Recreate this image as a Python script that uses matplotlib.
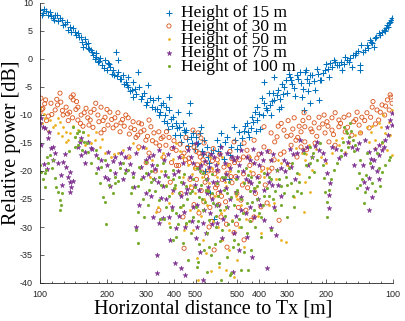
# -*- coding: utf-8 -*-

#%% import
import numpy as np
import matplotlib
matplotlib.use('Agg')
import matplotlib.pyplot as plt
from matplotlib.ticker import FixedLocator


#%% data
# signed horizontal distance [m]: negative = outbound leg (left half), positive = return leg (right half)
d15 = [
    -100, -103, -104, -109, -111, -114, -117, -120, -123, -127,
    -132, -134, -138, -141, -145, -148, -153, -156, -159, -164,
    -164, -169, -173, -178, -178, -182, -186, -190, -196, -202,
    -206, -210, -213, -219, -224, -224, -229, -236, -239, -243,
    -249, -249, -254, -262, -262, -267, -275, -278, -284, -293,
    -299, -305, -312, -322, -329, -339, -342, -350, -357, -361,
    -368, -376, -380, -380, -388, -396, -404, -409, -417, -421,
    -430, -439, -448, -453, -463, -467, -472, -477, -487, -497,
    -503, -513, -524, -529, -540, -546, -563, -575, -587, -600,
    -552, -581, -606,
    615, 612, 593, 575, 557, 546, 535, 518, 503, 492,
    477, 463, 453, 444, 435, 430, 417, 409, 409, 396,
    388, 380, 380, 368, 361, 353, 350, 342, 342, 332,
    325, 318, 315, 309, 299, 293, 290, 287, 278, 270,
    262, 259, 256, 251, 249, 244, 239, 236, 236, 231,
    224, 219, 215, 213, 210, 202, 194, 192, 188, 182,
    178, 175, 169, 164, 161, 158, 153, 151, 148, 144,
    141, 141, 139, 134, 131, 127, 124, 122, 119, 116,
    112, 110, 108, 106, 104, 103, 102, 101]
p15 = [
    8.8, 8.2, 8.9, 7.9, 8.4, 7.3, 7.8, 6.7, 7.4, 6.1,
    6.6, 5.2, 4.9, 5.6, 4.3, 4.6, 4.0, 2.2, 3.6, 2.0,
    2.8, 1.6, 0.8, 1.1, 0.4, -0.6, 0.2, -1.0, -0.2, -0.7,
    -1.4, -2.6, -2.0, 1.3, -2.3, -0.2, -3.5, -2.9, -4.4, -4.1,
    -5.0, -3.2, -5.8, -4.1, -6.8, -5.4, -2.3, -5.0, -7.2, -6.1,
    -8.3, -4.6, -7.0, -7.3, -9.0, -7.0, -10.0, -8.2, -7.9, -11.0,
    -8.6, -12.5, -9.1, -6.8, -10.8, -10.4, -13.6, -11.4, -9.5, -12.1,
    -14.8, -11.4, -13.0, -12.7, -15.5, -9.6, -7.9, -14.0, -13.2, -16.0,
    -13.9, -15.0, -13.2, -12.1, -17.0, -14.5, -15.7, -18.5, -16.8, -16.3,
    -20.0, -24.0, -28.5,
    -14.5, -16.5, -13.2, -17.8, -13.9, -21.5, -15.8, -12.1, -16.0, -13.0,
    -14.1, -12.0, -11.4, -14.0, -12.3, -10.4, -9.5, -10.9, -8.6, -12.5,
    -7.0, -7.9, -4.1, -9.1, -6.0, -10.0, -7.5, -7.3, -3.2, -6.4,
    -9.0, -8.6, -4.5, -5.0, -6.1, -2.6, -3.2, -3.8, -5.2, -2.9,
    -2.3, -4.3, -6.8, -9.1, -2.3, -3.5, -4.3, -7.9, -2.9, -2.9,
    -5.5, -1.8, -7.3, -3.8, -3.8, -2.0, -3.2, -0.7, -1.4, -0.5,
    -1.1, -1.1, -2.0, 0.4, -0.2, -0.5, -1.4, 0.7, 0.7, 1.5,
    -2.0, -1.1, 2.5, 1.6, 2.5, 3.4, 2.8, 2.2, 4.0, 4.6,
    4.9, 5.2, 5.5, 6.1, 6.5, 6.6, 7.0, 7.3]
d15b = [
    -102, -106, -112, -116, -119, -125, -129, -136, -143, -150,
    -155, -161, -166, -171, -176, -184, -193, -199, -204, -215,
    -221, -232, -246, -258, -271, -288, -302, -318, -335, -346,
    -365, -372, -392, -413, -426, -444, -458, -482, -508, -535,
    -569,
    600, 569, 540, 513, 487, 467, 448, 426, 413, 400,
    384, 372, 357, 346, 329, 322, 312, 302, 284, 275,
    267, 254, 246, 241, 226, 217, 207, 200, 196, 185,
    172, 166, 156, 146, 137, 129, 126, 120, 114, 109,
    105]
p15b = [
    7.9, 8.6, 7.6, 7.0, 7.9, 6.9, 6.3, 5.8, 4.8, 3.9,
    3.1, 2.6, 1.8, 1.2, 0.0, -0.3, -1.6, -1.9, -0.9, -2.8,
    -3.1, -3.6, -4.6, -5.6, -6.2, -6.6, -7.7, -8.6, -8.9, -9.4,
    -10.0, -11.5, -11.9, -12.3, -13.5, -12.6, -14.2, -15.0, -15.2, -16.5,
    -17.5,
    -15.5, -14.8, -17.2, -14.5, -15.3, -12.9, -13.0, -11.2, -12.8, -9.8,
    -10.0, -8.8, -8.2, -6.0, -5.5, -7.2, -6.3, -3.8, -4.4, -6.6,
    -3.6, -5.4, -2.0, -5.8, -4.0, -2.6, -2.5, -0.9, -1.8, -0.2,
    -0.6, -0.9, 0.2, 1.0, 1.2, 2.0, 3.0, 3.8, 4.3, 5.0,
    5.8]

d30 = [
    -100, -101, -103, -105, -106, -109, -112, -117, -120, -123,
    -124, -127, -131, -134, -136, -138, -141, -141, -145, -148,
    -148, -153, -156, -161, -164, -168, -169, -173, -178, -182,
    -188, -188, -192, -196, -202, -206, -213, -217, -224, -229,
    -231, -239, -243, -249, -256, -262, -270, -275, -278, -284,
    -293, -299, -309, -315, -325, -332, -342, -350, -357, -368,
    -380, -392, -409, -426, -444, -453, -467, -487, -492, -503,
    -513, -518, -529, -540, -546, -557, -569, -587, -600, -251,
    -278, -309, -342, -439, -444, -492, -518, -575, -606, -552,
    -472, -593, -560, -530, -500, -470, -420, -390, -580, -610,
    618, 616, 606, 593, 575, 557, 557, 540, 529, 518,
    518, 503, 482, 467, 467, 458, 453, 435, 421, 421,
    409, 392, 380, 380, 368, 353, 342, 332, 325, 318,
    309, 309, 296, 287, 287, 278, 273, 270, 264, 259,
    259, 251, 249, 249, 239, 231, 226, 224, 215, 215,
    204, 202, 198, 194, 188, 188, 182, 182, 175, 175,
    166, 164, 158, 153, 150, 145, 142, 138, 131, 128,
    124, 123, 118, 116, 112, 109, 106, 104, 103, 102,
    101, 600, 545, 510, 490, 470, 440, 400, 360]
p30 = [
    -9.6, -7.0, -8.8, -8.0, -7.3, -10.2, -7.9, -9.1, -8.2, -6.1,
    -7.7, -10.0, -8.6, -11.0, -9.5, -6.8, -7.3, -6.4, -9.0, -8.6,
    -10.9, -10.0, -12.0, -8.8, -10.5, -10.9, -9.5, -12.2, -7.9, -10.0,
    -8.6, -13.2, -11.0, -10.4, -11.8, -9.5, -12.3, -10.5, -9.6, -13.0,
    -11.4, -12.0, -10.0, -10.5, -12.3, -11.2, -14.0, -13.6, -11.4, -13.0,
    -12.7, -14.5, -10.9, -12.1, -13.2, -15.0, -13.0, -14.2, -13.9, -15.4,
    -14.0, -16.0, -16.3, -15.2, -16.8, -14.0, -17.7, -12.7, -15.7, -16.5,
    -13.2, -16.8, -14.1, -18.0, -15.0, -18.6, -17.0, -19.8, -16.0, -17.5,
    -15.7, -16.8, -27.0, -28.2, -33.8, -26.0, -27.5, -30.0, -34.1, -22.0,
    -21.5, -24.5, -21.0, -23.5, -19.5, -18.5, -19.0, -18.5, -26.5, -20.5,
    -22.5, -18.0, -26.0, -28.2, -19.3, -20.4, -33.6, -16.5, -22.1, -31.0,
    -14.8, -24.0, -25.2, -32.3, -15.0, -27.0, -16.3, -28.8, -28.2, -14.5,
    -17.7, -26.4, -12.1, -15.7, -25.7, -13.2, -18.0, -13.9, -28.8, -11.5,
    -12.7, -16.6, -11.0, -13.6, -15.4, -10.5, -14.5, -17.5, -12.0, -13.0,
    -15.7, -9.6, -12.1, -14.8, -10.5, -13.0, -11.4, -15.0, -10.4, -12.3,
    -10.0, -13.2, -11.2, -14.8, -10.5, -12.7, -9.6, -15.4, -10.9, -12.1,
    -10.4, -13.0, -10.0, -13.6, -11.2, -9.5, -11.8, -10.4, -9.6, -12.3,
    -8.6, -7.6, -9.1, -10.9, -8.2, -10.0, -7.3, -9.1, -6.4, -6.8,
    -7.9, -17.0, -19.0, -21.0, -18.0, -20.5, -19.0, -21.0, -20.0]
d30b = [
    -102, -107, -113, -119, -126, -133, -140, -146, -152, -158,
    -166, -175, -184, -194, -200, -210, -220, -235, -252, -266,
    -286, -304, -320, -345, -370, -400, -435, -460, -510, -535,
    -565, -595,
    610, 585, 565, 530, 505, 475, 445, 415, 385, 360,
    340, 328, 300, 282, 268, 254, 245, 234, 220, 207,
    196, 185, 172, 160, 147, 140, 134, 126, 120, 114,
    108]
p30b = [
    -9.0, -11.0, -9.9, -7.2, -9.2, -9.8, -10.5, -7.6, -11.5, -9.6,
    -11.8, -9.0, -11.2, -12.6, -9.0, -10.8, -11.8, -10.8, -13.4, -12.6,
    -11.6, -13.8, -14.6, -15.5, -13.0, -14.6, -17.4, -15.8, -18.9, -20.2,
    -23.6, -18.2,
    -24.0, -21.5, -25.5, -17.8, -29.5, -22.5, -17.5, -24.0, -19.5, -16.5,
    -14.8, -12.0, -13.8, -12.5, -14.0, -11.0, -16.2, -12.5, -13.8, -11.6,
    -12.0, -13.5, -11.5, -12.2, -10.8, -13.2, -11.0, -10.4, -11.6, -9.5,
    -8.4]
# third batch: the crowded cloud around the turning point
d30c = [-300, -330, -360, -385, -410, -430, -450, -480, -505, -525, -545, -570, -590, -615,
        612, 590, 560, 535, 515, 495, 470, 450, 425, 400, 375, 350, 320, 290]
p30c = [-18.5, -20.0, -17.5, -22.0, -19.0, -24.0, -18.0, -23.0, -21.5, -17.5, -25.5, -20.0, -29.0, -23.0,
        -20.0, -24.5, -29.5, -21.0, -18.5, -26.5, -17.5, -23.0, -20.5, -17.0, -22.5, -19.5, -17.0, -19.0]

d50 = [
    -100, -102, -105, -109, -111, -117, -120, -120, -123, -127,
    -131, -131, -134, -136, -144, -147, -148, -153, -159, -164,
    -177, -178, -186, -196, -208, -224, -236, -262, -299, -332,
    -339, -357, -380, -380, -409, -439, -439, -487, -513, -540,
    -557, -575, -587, -463, -524, -497, -404, -281, -312, -560,
    -600, -530, -470, -420, 619, 606, 587, 587, 563, 563,
    546, 529, 518, 503, 492, 467, 439, 392, 380, 357,
    342, 318, 318, 302, 278, 273, 256, 251, 249, 249,
    239, 236, 231, 210, 188, 175, 169, 164, 148, 131,
    128, 126, 120, 121, 112, 113, 109, 106, 104, 101,
    101, 111, 600, 540, 480, 450]
p50 = [
    -8.8, -11.5, -10.5, -12.8, -10.9, -11.8, -10.5, -13.2, -11.2, -12.1,
    -13.0, -14.8, -14.5, -13.2, -13.9, -13.2, -12.7, -14.5, -15.4, -13.6,
    -14.5, -13.0, -15.7, -16.8, -17.5, -16.8, -16.3, -15.0, -15.9, -27.3,
    -26.4, -16.8, -25.7, -29.3, -15.0, -17.5, -21.0, -30.5, -39.4, -32.3,
    -34.6, -22.1, -37.9, -19.0, -18.5, -24.0, -23.0, -19.5, -21.0, -26.0,
    -29.0, -28.0, -27.0, -20.0, -21.0, -37.1, -17.5, -32.3, -22.7, -37.7,
    -34.1, -28.8, -38.9, -35.9, -30.0, -33.6, -20.0, -31.1, -21.0, -18.0,
    -25.7, -18.6, -32.3, -32.7, -24.6, -15.9, -16.8, -27.3, -18.0, -22.0,
    -15.4, -23.8, -19.8, -17.5, -16.8, -15.4, -14.1, -16.6, -13.6, -12.1,
    -14.8, -13.0, -15.9, -14.5, -15.0, -12.1, -13.2, -16.3, -11.2, -17.1,
    -9.1, -10.0, -24.0, -20.0, -26.0, -22.0]
d50b = [
    -104, -114, -126, -140, -156, -170, -190, -215, -250, -275,
    -320, -350, -370, -395, -430, -455, -480, -505, -545, -590,
    610, 575, 550, 510, 470, 425, 405, 370, 335, 300,
    265, 245, 222, 200, 180, 158, 140, 124, 115, 103]
p50b = [
    -9.8, -12.2, -13.8, -12.0, -13.0, -15.0, -14.2, -17.0, -17.5, -16.0,
    -18.0, -20.0, -22.5, -17.8, -26.5, -29.5, -20.5, -35.5, -25.0, -19.5,
    -30.0, -27.0, -19.0, -24.5, -22.0, -18.5, -28.0, -19.5, -21.5, -19.0,
    -20.5, -17.0, -16.0, -18.5, -14.5, -15.0, -13.0, -12.0, -11.5, -13.5]
d50c = [-350, -390, -425, -445, -470, -490, -515, -535, -565, -580, -610,
        612, 595, 570, 545, 520, 500, 460, 440, 415, 390, 360, 330]
p50c = [-17.5, -24.0, -16.5, -30.5, -22.5, -19.5, -27.0, -21.0, -31.0, -17.5, -24.5,
        -18.5, -27.5, -22.0, -30.5, -17.8, -25.0, -28.5, -17.5, -23.0, -20.0, -26.0, -18.0]

d75 = [
    -100, -101, -101, -103, -105, -109, -112, -114, -114, -117,
    -120, -124, -127, -131, -134, -136, -136, -136, -138, -148,
    -151, -153, -153, -159, -164, -169, -178, -188, -196, -202,
    -202, -206, -217, -217, -229, -231, -236, -243, -251, -262,
    -270, -270, -278, -290, -290, -299, -309, -322, -322, -325,
    -335, -335, -342, -342, -357, -357, -361, -380, -384, -396,
    -396, -404, -409, -421, -430, -439, -444, -448, -463, -487,
    -487, -503, -518, -540, -540, -540, -557, -575, -606, -593,
    -560, -520, -470, -430, -600, -580, -500, -450, 619, 616,
    593, 575, 557, 557, 524, 518, 503, 492, 482, 482,
    453, 453, 435, 430, 421, 421, 392, 380, 380, 368,
    353, 353, 342, 335, 332, 309, 287, 270, 262, 244,
    231, 219, 215, 202, 198, 194, 194, 192, 188, 175,
    153, 142, 134, 131, 128, 128, 128, 124, 124, 122,
    116, 116, 112, 109, 106, 105, 103, 101, 101, 600,
    570, 540, 510, 470, 440, 410, 400, 370, 330]
p75 = [
    -11.4, -10.6, -15.4, -12.1, -12.3, -14.1, -15.9, -18.0, -15.7, -16.8,
    -18.6, -20.7, -18.4, -19.3, -21.0, -20.2, -22.0, -23.8, -22.9, -15.7,
    -14.8, -14.1, -17.1, -16.6, -14.8, -15.9, -17.1, -18.0, -21.0, -16.6,
    -21.4, -22.7, -17.5, -20.4, -18.6, -16.8, -21.4, -19.8, -15.9, -20.4,
    -16.8, -30.0, -26.0, -15.7, -21.0, -18.0, -17.5, -17.1, -28.2, -21.4,
    -35.0, -38.2, -16.3, -29.3, -22.7, -28.4, -18.0, -28.2, -32.3, -15.7,
    -23.4, -36.4, -30.2, -17.5, -37.3, -22.1, -27.3, -38.6, -16.3, -18.6,
    -26.4, -15.0, -23.4, -16.8, -29.3, -39.5, -31.1, -19.3, -17.5, -25.0,
    -21.5, -19.5, -21.0, -24.5, -22.0, -27.5, -32.0, -30.0, -29.3, -19.8,
    -15.7, -21.4, -16.8, -26.4, -38.0, -18.0, -21.0, -34.1, -16.3, -24.6,
    -17.5, -31.8, -22.1, -35.4, -18.6, -28.2, -16.8, -23.4, -28.8, -37.3,
    -18.0, -30.2, -26.4, -31.4, -19.8, -18.0, -19.3, -16.8, -14.5, -15.7,
    -17.5, -14.8, -16.3, -18.0, -20.4, -24.3, -26.6, -22.1, -15.7, -17.7,
    -15.7, -15.0, -14.5, -23.0, -16.6, -21.2, -27.0, -19.3, -24.6, -18.0,
    -15.4, -17.1, -16.3, -14.5, -12.1, -13.5, -10.9, -9.6, -11.8, -23.5,
    -18.5, -25.0, -28.0, -20.0, -26.5, -21.0, -19.0, -20.5, -22.5]
d75b = [
    -104, -107, -110, -126, -129, -140, -160, -172, -183, -200,
    -212, -240, -255, -265, -285, -305, -315, -330, -350, -365,
    -375, -390, -415, -460, -480, -510, -525, -550, -565, -590,
    -615,
    610, 585, 560, 530, 505, 490, 460, 445, 425, 405,
    385, 362, 345, 320, 300, 280, 255, 240, 225, 206,
    180, 165, 160, 145, 137, 120, 118]
p75b = [
    -18.8, -19.6, -13.0, -22.5, -17.0, -21.8, -18.5, -16.0, -19.5, -19.0,
    -18.2, -17.5, -18.8, -22.8, -19.2, -20.5, -24.5, -19.6, -24.8, -20.8,
    -17.0, -26.5, -20.0, -23.2, -29.0, -26.0, -34.5, -18.3, -24.0, -29.5,
    -19.0,
    -26.0, -32.0, -20.5, -17.5, -23.8, -19.0, -27.5, -21.8, -16.0, -25.0,
    -18.0, -22.0, -17.0, -19.5, -18.5, -17.0, -16.2, -19.0, -15.5, -16.8,
    -16.0, -17.0, -14.8, -16.0, -19.0, -16.0, -20.0]
d75c = [-300, -320, -340, -370, -400, -420, -440, -455, -475, -495, -510, -530, -545, -570, -585, -615,
        615, 600, 580, 560, 540, 520, 500, 480, 460, 440,
        420, 395, 370, 350, 320, 305, 290, 275, 150, 135,
        125, 115, 110]
p75c = [-24.0, -19.0, -22.0, -25.0, -20.5, -28.0, -18.5, -24.0, -17.5, -22.5, -30.0, -19.0, -27.0, -22.8, -17.0, -26.0,
        -22.0, -17.0, -28.5, -23.0, -19.5, -31.0, -17.5, -27.0, -21.5, -18.0,
        -23.5, -26.0, -16.5, -22.5, -24.5, -20.0, -16.0, -21.5, -19.0, -22.0,
        -17.8, -21.5, -15.8]

d100 = [
    -100, -101, -105, -106, -109, -105, -111, -114, -117, -118,
    -120, -123, -124, -123, -141, -144, -147, -148, -151, -154,
    -156, -163, -164, -178, -178, -186, -188, -192, -196, -196,
    -198, -206, -217, -217, -229, -241, -249, -256, -262, -270,
    -275, -275, -275, -278, -293, -299, -299, -309, -322, -342,
    -342, -357, -368, -368, -396, -396, -396, -409, -409, -421,
    -439, -453, -453, -463, -487, -487, -508, -513, -518, -540,
    -540, -546, -557, -563, -575, -600, -590, -560, -530, -500,
    -470, -440, -420, -380, -330, -610, 616, 606, 593, 575,
    557, 540, 535, 535, 518, 503, 482, 482, 467, 453,
    453, 448, 435, 435, 421, 409, 392, 392, 380, 353,
    353, 332, 318, 302, 299, 287, 278, 270, 259, 251,
    239, 236, 236, 229, 226, 213, 204, 202, 198, 198,
    194, 184, 171, 171, 166, 161, 159, 158, 156, 151,
    148, 145, 142, 141, 138, 135, 134, 131, 124, 118,
    114, 112, 112, 109, 104, 103, 600, 570, 550, 520,
    495, 470, 440, 410, 370, 345]
p100 = [
    -18.9, -20.2, -20.4, -19.8, -18.6, -22.9, -17.1, -18.0, -21.2, -22.9,
    -23.8, -25.2, -26.1, -27.0, -12.1, -15.7, -13.2, -15.4, -14.5, -16.3,
    -13.0, -15.0, -16.6, -16.3, -20.4, -22.1, -19.3, -24.6, -25.5, -18.0,
    -29.5, -19.8, -21.0, -22.1, -19.5, -20.4, -19.8, -24.0, -21.0, -30.5,
    -22.7, -27.3, -32.9, -19.3, -28.2, -18.4, -20.4, -23.4, -21.4, -21.0,
    -25.2, -18.6, -22.7, -26.4, -19.8, -21.4, -32.3, -27.5, -31.8, -24.0,
    -32.9, -22.7, -29.3, -35.9, -21.4, -28.2, -37.1, -36.3, -24.6, -20.4,
    -27.0, -34.1, -23.4, -38.0, -28.8, -25.7, -20.5, -31.0, -22.5, -26.5,
    -24.0, -26.0, -21.0, -24.5, -23.5, -33.0, -22.1, -36.4, -39.4, -23.4,
    -35.4, -38.6, -24.6, -38.2, -32.3, -23.4, -30.0, -37.7, -22.1, -25.7,
    -31.1, -37.7, -21.0, -34.1, -27.0, -22.7, -28.2, -31.8, -20.4, -21.4,
    -30.5, -19.8, -22.7, -21.0, -28.2, -22.1, -26.4, -20.4, -24.0, -16.8,
    -21.0, -18.6, -15.7, -16.8, -20.2, -15.0, -21.2, -23.8, -25.5, -28.2,
    -23.4, -19.8, -16.3, -17.3, -12.1, -13.2, -15.7, -14.0, -11.4, -14.5,
    -15.4, -23.0, -20.4, -18.0, -21.4, -25.7, -23.8, -16.8, -22.1, -16.8,
    -22.7, -14.8, -20.2, -19.0, -18.0, -17.5, -27.0, -21.0, -29.5, -26.0,
    -20.0, -27.5, -23.5, -25.0, -23.0, -25.0]
d100b = [
    -103, -108, -113, -126, -135, -143, -150, -158, -170, -182,
    -205, -212, -225, -235, -260, -285, -305, -315, -335, -350,
    -360, -375, -390, -400, -415, -430, -460, -475, -495, -515,
    -525, -550, -570, -585, -620,
    612, 588, 565, 545, 525, 510, 490, 465, 450, 430,
    415, 400, 385, 362, 340, 325, 310, 292, 280, 265,
    245, 232, 220, 206, 190, 178, 168, 163, 154, 150,
    140, 132, 127, 121, 116]
p100b = [
    -21.5, -17.5, -19.4, -24.0, -16.5, -14.0, -12.8, -14.8, -18.5, -17.6,
    -22.5, -24.0, -21.8, -18.5, -22.8, -21.5, -26.0, -20.0, -19.0, -22.5,
    -28.5, -21.0, -27.0, -23.0, -29.5, -22.0, -25.0, -31.0, -22.8, -29.0,
    -20.0, -25.5, -23.5, -35.0, -28.0,
    -24.5, -30.5, -26.5, -22.0, -33.5, -24.0, -28.5, -34.5, -20.8, -25.5,
    -30.0, -22.0, -26.0, -24.5, -27.0, -21.5, -24.0, -19.5, -24.5, -22.0,
    -19.0, -17.5, -18.0, -19.0, -21.5, -18.5, -14.8, -12.8, -12.8, -16.5,
    -22.5, -20.8, -18.5, -23.5, -19.5]
d100c = [-290, -315, -345, -365, -385, -405, -425, -445, -465, -480,
         -505, -520, -535, -555, -575, -595, -615,
         618, 600, 585, 570, 555, 530, 510, 495, 480, 460,
         440, 420, 400, 380, 360, 340, 320, 300, 285, 270]
p100c = [-25.0, -22.0, -28.5, -20.0, -30.0, -22.5, -26.5, -20.5, -29.0, -23.5,
         -19.5, -33.0, -25.0, -21.5, -33.5, -24.0, -30.0,
         -26.0, -32.5, -21.0, -28.0, -24.0, -29.0, -21.5, -33.0, -25.0, -19.5,
         -29.0, -23.0, -27.5, -24.5, -21.0, -23.5, -26.0, -22.5, -18.5, -23.5]

labels = ['Height of 15 m', 'Height of 30 m', 'Height of 50 m', 'Height of 75 m', 'Height of 100 m']
tick_dist = [-100, -200, -300, -400, -500, 500, 400, 300, 200, 100]


#%% function
d_far = 621.0                      # distance at the turning point (centre of the axis)
span = np.log10(d_far / 100)

def to_pos(d):
    # map signed distance onto the mirrored log axis
    d = np.asarray(d, dtype=float)
    return np.where(d < 0, np.log10(-d / 100), 2 * span - np.log10(np.abs(d) / 100))


#%% main
plt.rcParams['axes.unicode_minus'] = False
serif = ['Liberation Serif', 'DejaVu Serif']

fig = plt.figure(figsize=(4.05, 3.21), dpi=100)
ax = fig.add_axes([40 / 405, 1 - 283 / 321, 353 / 405, 280 / 321])

h15 = ax.scatter(to_pos(d15 + d15b), p15 + p15b, s=14, marker='+', c='#0072BD', linewidths=0.75)
h30 = ax.scatter(to_pos(d30 + d30b + d30c), p30 + p30b + p30c, s=9, marker='o', facecolors='none',
                 edgecolors='#D95319', linewidths=0.6)
h50 = ax.scatter(to_pos(d50 + d50b + d50c), p50 + p50b + p50c, s=16, marker='.', c='#EDB120', linewidths=0)
h75 = ax.scatter(to_pos(d75 + d75b + d75c), p75 + p75b + p75c, s=14, marker='*', c='#7E2F8E', linewidths=0.3)
h100 = ax.scatter(to_pos(d100 + d100b + d100c), p100 + p100b + p100c, s=20, marker='.', c='#77AC30', linewidths=0)

ax.set_xlim(0, 2 * span)
ax.set_ylim(-40, 10)
ax.set_yticks(np.arange(-40, 11, 5))
ax.xaxis.set_major_locator(FixedLocator(to_pos(tick_dist)))
ax.set_xticklabels([str(abs(t)) for t in tick_dist])
ax.xaxis.set_minor_locator(FixedLocator(np.linspace(0, 2 * span, 31)))

for side in ['top', 'right']:
    ax.spines[side].set_visible(False)
for side in ['left', 'bottom']:
    ax.spines[side].set_linewidth(0.6)
    ax.spines[side].set_color('#262626')

ax.tick_params(which='both', direction='in', colors='#262626', width=0.5)
ax.tick_params(which='major', length=3, labelsize=6.5, pad=5)
ax.tick_params(which='minor', length=1.5)
for lab in ax.get_xticklabels() + ax.get_yticklabels():
    lab.set_fontfamily(['Liberation Sans', 'DejaVu Sans'])

ax.set_xlabel('Horizontal distance to Tx [m]', fontsize=14.5, family=serif)
ax.set_ylabel('Relative power [dB]', fontsize=14.5, family=serif)
ax.xaxis.set_label_coords(0.49, -0.06)
ax.yaxis.set_label_coords(-0.054, 0.5)

ax.legend([h15, h30, h50, h75, h100], labels, loc='upper left',
          bbox_to_anchor=(162 / 405, 1 - 5 / 321), bbox_transform=fig.transFigure,
          frameon=False, prop={'family': serif, 'size': 12.5},
          borderpad=0, borderaxespad=0, handlelength=0.8, handletextpad=0.3,
          labelspacing=-0.16, scatterpoints=1)

plt.savefig('out.png', dpi=100)
